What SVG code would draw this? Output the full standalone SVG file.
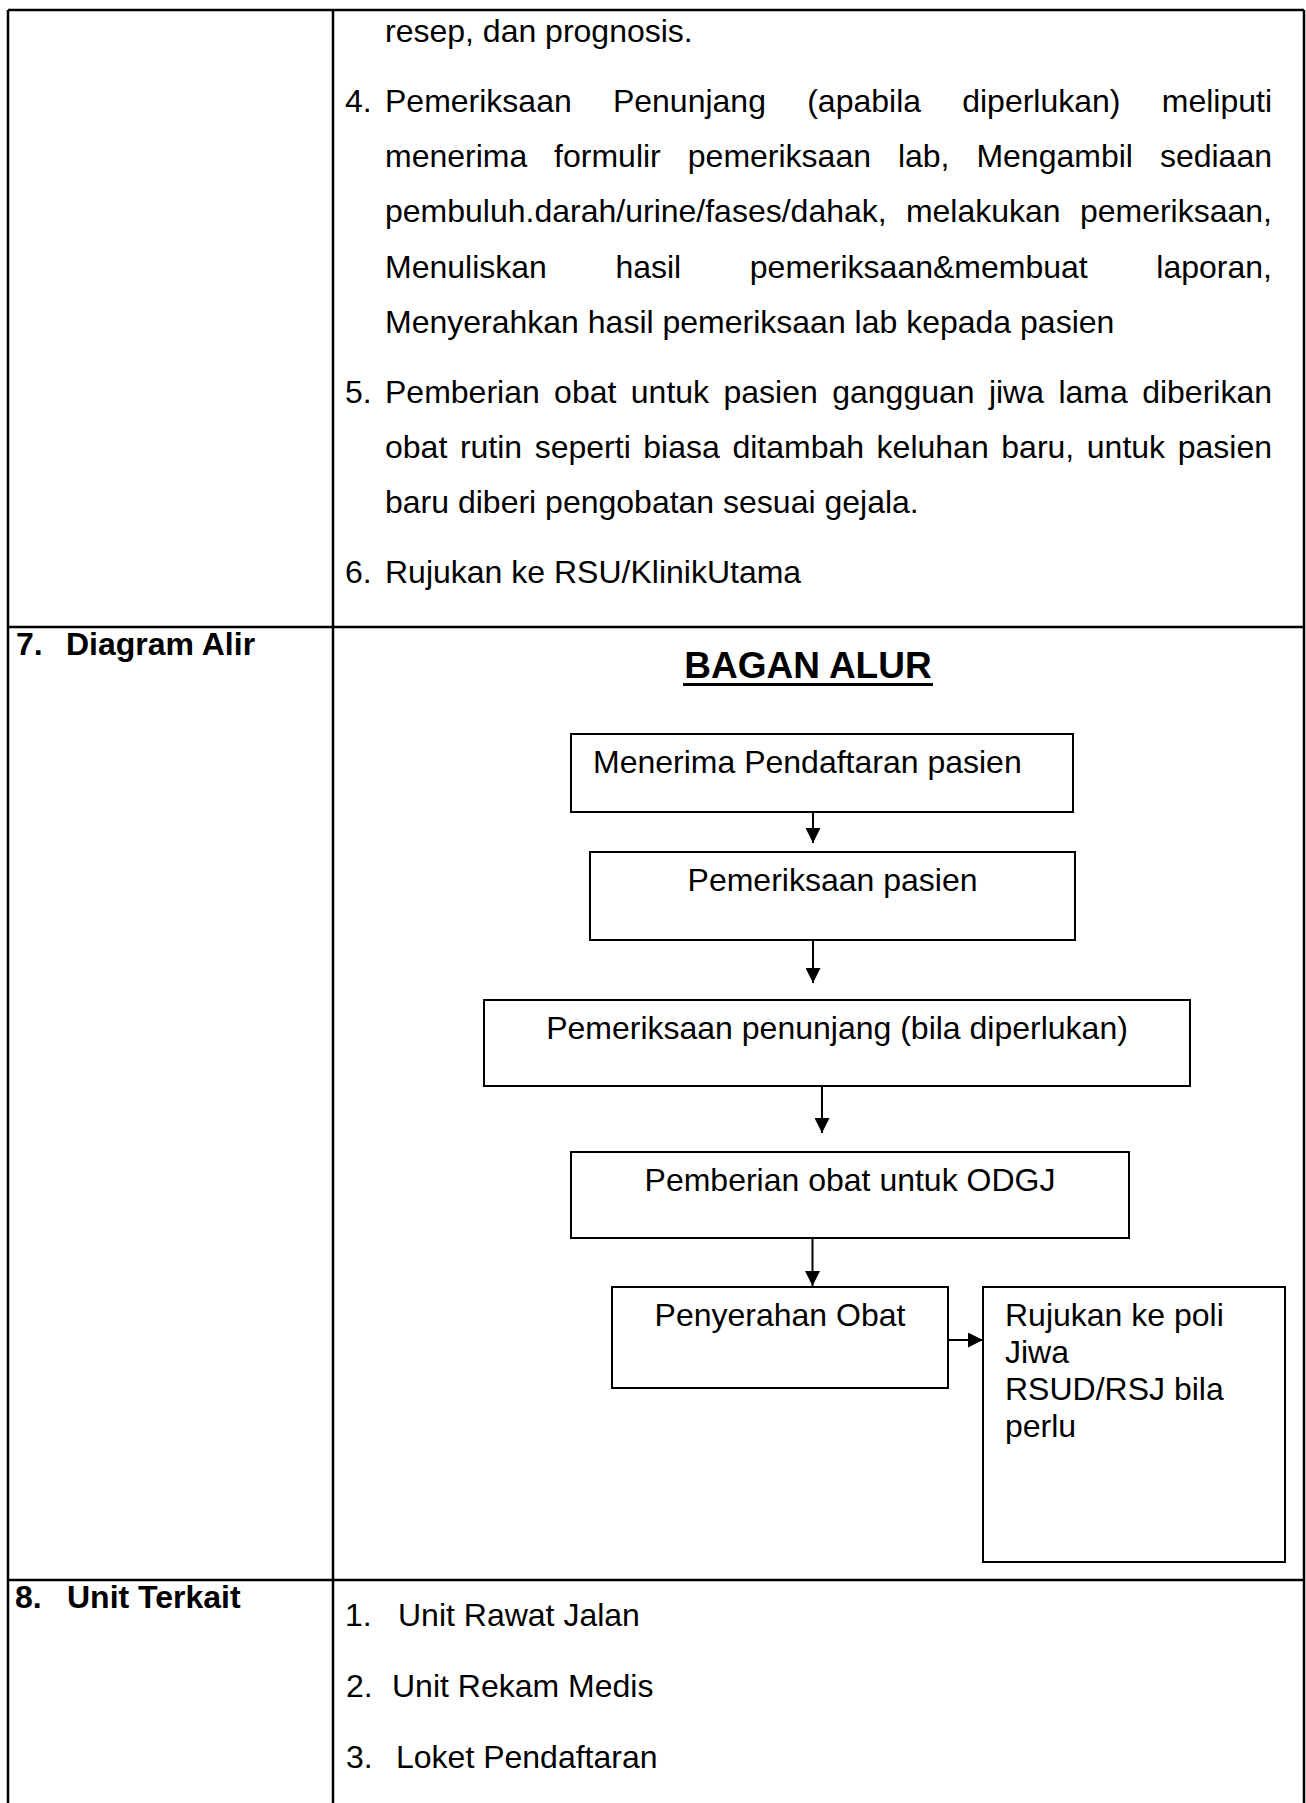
<svg xmlns="http://www.w3.org/2000/svg" width="1306" height="1803" viewBox="0 0 1306 1803">
<defs>
<style>
.t{font-family:"Liberation Sans",Arial,sans-serif;font-size:32px;fill:#000}
.b{font-weight:bold}
.ttl{font-family:"Liberation Sans",Arial,sans-serif;font-size:37px;font-weight:bold;fill:#000}
.grid{stroke:#000;stroke-width:2.5;fill:none}
.box{fill:#fff;stroke:#000;stroke-width:2}
.conn{stroke:#000;stroke-width:2;fill:none}
</style>
<marker id="ah" viewBox="0 0 15 15" refX="15" refY="7.5" markerWidth="15" markerHeight="15" markerUnits="userSpaceOnUse" orient="auto">
<path d="M0,0 L15,7.5 L0,15 z" fill="#000"/>
</marker>
</defs>
<rect width="1306" height="1803" fill="#fff"/>
<g id="table">
<line class="grid" x1="8" y1="10" x2="1304" y2="10"/>
<line class="grid" x1="8" y1="10" x2="8" y2="1803"/>
<line class="grid" x1="333" y1="10" x2="333" y2="1803"/>
<line class="grid" x1="1304" y1="10" x2="1304" y2="1803"/>
<line class="grid" x1="8" y1="627" x2="1304" y2="627"/>
<line class="grid" x1="8" y1="1580" x2="1304" y2="1580"/>
</g>
<g id="row6-text" class="t">
<text x="385" y="42">resep, dan prognosis.</text>
<text x="345" y="112">4.</text>
<text x="385" y="112">Pemeriksaan</text>
<text x="612.9" y="112">Penunjang</text>
<text x="807.2" y="112">(apabila</text>
<text x="962.2" y="112">diperlukan)</text>
<text x="1272" y="112" text-anchor="end">meliputi</text>
<text x="385" y="167">menerima</text>
<text x="554.1" y="167">formulir</text>
<text x="687.8" y="167">pemeriksaan</text>
<text x="897.9" y="167">lab,</text>
<text x="976.4" y="167">Mengambil</text>
<text x="1272" y="167" text-anchor="end">sediaan</text>
<text x="385" y="222">pembuluh.darah/urine/fases/dahak,</text>
<text x="905.9" y="222">melakukan</text>
<text x="1272" y="222" text-anchor="end">pemeriksaan,</text>
<text x="385" y="278">Menuliskan</text>
<text x="615.4" y="278">hasil</text>
<text x="749.8" y="278">pemeriksaan&amp;membuat</text>
<text x="1272" y="278" text-anchor="end">laporan,</text>
<text x="385" y="333">Menyerahkan hasil pemeriksaan lab kepada pasien</text>
<text x="345" y="403">5.</text>
<text x="385" y="403">Pemberian</text>
<text x="554.1" y="403">obat</text>
<text x="630.8" y="403">untuk</text>
<text x="723.5" y="403">pasien</text>
<text x="832.2" y="403">gangguan</text>
<text x="988.9" y="403">jiwa</text>
<text x="1058.4" y="403">lama</text>
<text x="1272" y="403" text-anchor="end">diberikan</text>
<text x="385" y="458">obat</text>
<text x="459.9" y="458">rutin</text>
<text x="534.7" y="458">seperti</text>
<text x="643.3" y="458">biasa</text>
<text x="732.4" y="458">ditambah</text>
<text x="876.6" y="458">keluhan</text>
<text x="1001.3" y="458">baru,</text>
<text x="1086.8" y="458">untuk</text>
<text x="1272" y="458" text-anchor="end">pasien</text>
<text x="385" y="513">baru diberi pengobatan sesuai gejala.</text>
<text x="345" y="583">6.</text>
<text x="385" y="583">Rujukan ke RSU/KlinikUtama</text>
</g>
<g id="label-7" class="t b">
<text x="16" y="655">7.</text>
<text x="66" y="655">Diagram Alir</text>
</g>
<g id="title">
<text class="ttl" x="808" y="678" text-anchor="middle">BAGAN ALUR</text>
<line x1="683" y1="684.5" x2="933" y2="684.5" stroke="#000" stroke-width="3"/>
</g>
<g id="connectors">
<line class="conn" x1="813" y1="812" x2="813" y2="843" marker-end="url(#ah)"/>
<line class="conn" x1="813" y1="940" x2="813" y2="983" marker-end="url(#ah)"/>
<line class="conn" x1="822" y1="1086" x2="822" y2="1133" marker-end="url(#ah)"/>
<line class="conn" x1="812.5" y1="1238" x2="812.5" y2="1286" marker-end="url(#ah)"/>
<line class="conn" x1="948" y1="1340" x2="983" y2="1340" marker-end="url(#ah)"/>
</g>
<g id="node-pendaftaran">
<rect class="box" x="571" y="734" width="502" height="78"/>
<text class="t" x="593" y="773">Menerima Pendaftaran pasien</text>
</g>
<g id="node-pemeriksaan">
<rect class="box" x="590" y="852" width="485" height="88"/>
<text class="t" x="832.5" y="891" text-anchor="middle">Pemeriksaan pasien</text>
</g>
<g id="node-penunjang">
<rect class="box" x="484" y="1000" width="706" height="86"/>
<text class="t" x="837" y="1039" text-anchor="middle">Pemeriksaan penunjang (bila diperlukan)</text>
</g>
<g id="node-pemberian">
<rect class="box" x="571" y="1152" width="558" height="86"/>
<text class="t" x="850" y="1191" text-anchor="middle">Pemberian obat untuk ODGJ</text>
</g>
<g id="node-penyerahan">
<rect class="box" x="612" y="1287" width="336" height="101"/>
<text class="t" x="780" y="1326" text-anchor="middle">Penyerahan Obat</text>
</g>
<g id="node-rujukan">
<rect class="box" x="983" y="1287" width="302" height="275"/>
<text class="t" x="1005" y="1326">Rujukan ke poli</text>
<text class="t" x="1005" y="1363">Jiwa</text>
<text class="t" x="1005" y="1400">RSUD/RSJ bila</text>
<text class="t" x="1005" y="1437">perlu</text>
</g>
<g id="label-8" class="t b">
<text x="15" y="1608">8.</text>
<text x="67" y="1608">Unit Terkait</text>
</g>
<g id="row8-text" class="t">
<text x="345" y="1626">1.</text>
<text x="398" y="1626">Unit Rawat Jalan</text>
<text x="346" y="1697">2.</text>
<text x="392" y="1697">Unit Rekam Medis</text>
<text x="346" y="1768">3.</text>
<text x="396" y="1768">Loket Pendaftaran</text>
</g>
</svg>
